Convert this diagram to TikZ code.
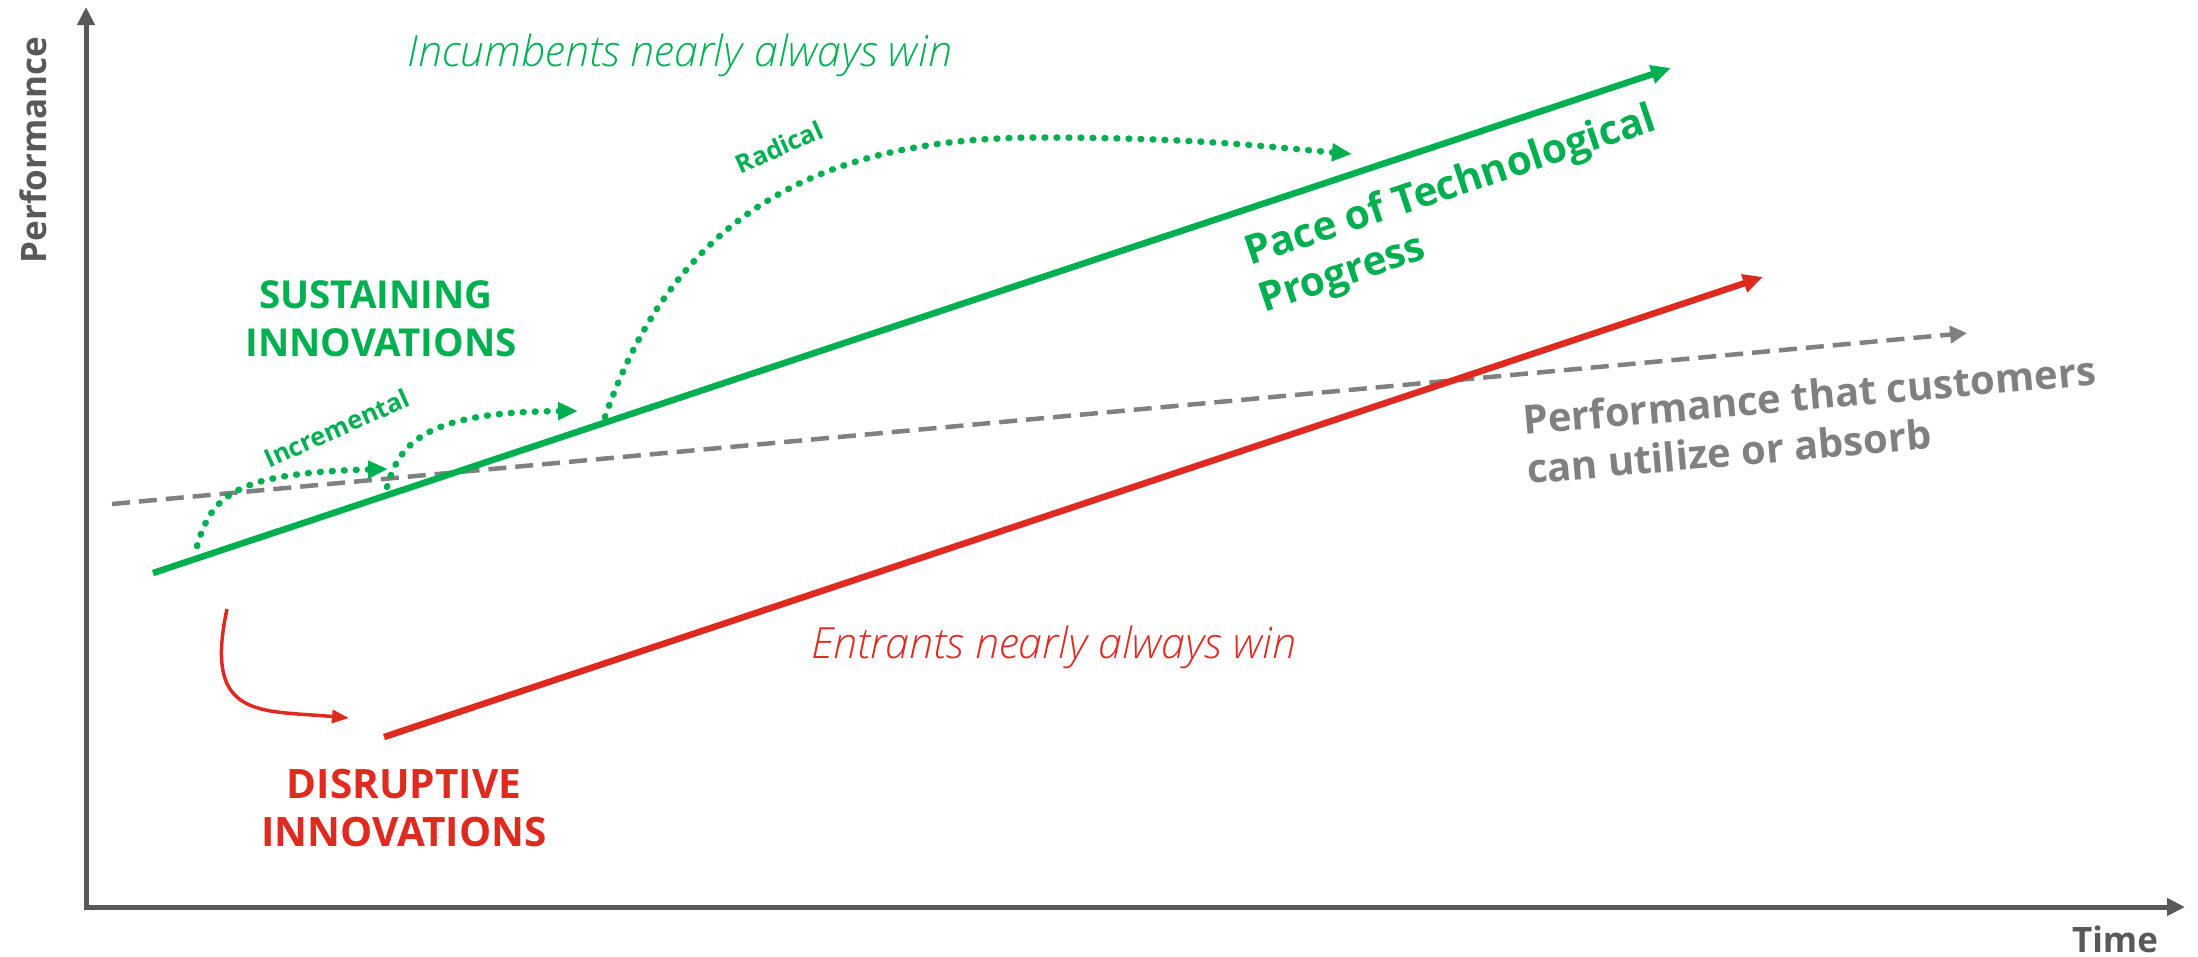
\documentclass[tikz,border=0pt]{standalone}
\usepackage{fontspec}
\setmainfont{Open Sans}
\IfFontExistsTF{Open Sans Light Italic}
  {\newfontfamily\winfont{Open Sans Light Italic}}
  {\newcommand\winfont{\itshape}}
\usetikzlibrary{arrows.meta}
\definecolor{sgreen}{HTML}{00B050}
\definecolor{dred}{HTML}{DF2A20}
\definecolor{cgray}{HTML}{808080}
\definecolor{axgray}{HTML}{595959}
\begin{document}
\begin{tikzpicture}[x=1pt,y=-1pt,
  axisline/.style={draw=axgray, line width=5pt, -{Triangle[length=18pt,width=17pt]}},
  greenline/.style={draw=sgreen, line width=6.5pt, -{Triangle[length=20pt,width=18pt]}},
  redline/.style={draw=dred, line width=6.5pt, -{Triangle[length=20pt,width=18pt]}},
  customerline/.style={draw=cgray, line width=4.5pt, dash pattern=on 18pt off 9pt, -{Triangle[length=17pt,width=17pt]}},
  dotarrow/.style={draw=sgreen, line width=6.5pt, line cap=round, dash pattern=on 0.8pt off 11.2pt, -{Triangle[length=20pt,width=17pt]}},
  redcurve/.style={draw=dred, line width=3.5pt, -{Triangle[length=17pt,width=13pt]}},
  axislabel/.style={text=axgray, font=\fontsize{35}{42}\selectfont\bfseries, inner sep=0pt},
  biglabel/.style={font=\fontsize{38.5}{47}\selectfont\bfseries, inner sep=0pt, anchor=base},
  disruptlabel/.style={font=\fontsize{40.5}{48}\selectfont\bfseries, inner sep=0pt, anchor=base},
  smalllabel/.style={text=sgreen, font=\fontsize{25.5}{30}\selectfont\bfseries, inner sep=0pt, rotate=24},
  winlabel/.style={font=\fontsize{43}{50}\selectfont\winfont, inner sep=0pt, anchor=base},
  pacelabel/.style={text=sgreen, font=\fontsize{40.5}{48}\selectfont\bfseries, inner sep=0pt, anchor=base west, rotate=18.5},
  custlabel/.style={text=cgray, font=\fontsize{40}{48}\selectfont\bfseries, inner sep=0pt, anchor=base west, rotate=5}
]
\useasboundingbox (0,0) rectangle (2198,956);

% axes
\coordinate (O) at (86,907);
\coordinate (ytip) at (86,7);
\coordinate (xtip) at (2185,907);
\coordinate (ybase) at (86,909.5);
\coordinate (xbase) at (83.5,907);
\draw[axisline] (ybase) -- (ytip);
\draw[axisline] (xbase) -- (xtip);
\node[axislabel, rotate=90] (perf) at (33,150) {Performance};
\node[axislabel, anchor=base] (time) at (2115,952) {Time};

% customer need (dashed)
\coordinate (c0) at (112,504);
\coordinate (c1) at (1967,333);
\draw[customerline] (c0) -- (c1);

% pace of technological progress
\coordinate (g0) at (153,573);
\coordinate (g1) at (1671,68);
\draw[greenline] (g0) -- (g1);

% disruptive
\coordinate (r0) at (384,737);
\coordinate (r1) at (1763,277);
\draw[redline] (r0) -- (r1);

% incremental dotted arrows
\coordinate (i1s) at (197,546);
\coordinate (i1e) at (388,469);
\draw[dotarrow] (i1s) .. controls (212,495) and (235,473) .. (i1e);
\coordinate (i2s) at (387,487);
\coordinate (i2e) at (578,411);
\draw[dotarrow] (i2s) .. controls (400,440) and (430,412) .. (i2e);

% radical dotted arrow
\coordinate (ras) at (605,417);
\coordinate (rap) at (1040,137.5);
\coordinate (rae) at (1352,154);
\draw[dotarrow] (ras) .. controls (675,215) and (820,137.5) .. (rap)
  .. controls (1200,137.5) and (1280,148) .. (rae);

% red curved arrow
\coordinate (rc0) at (227,609);
\coordinate (rc1) at (349,718);
\draw[redcurve] (rc0) .. controls (203,720) and (260,710) .. (rc1);

% labels
\node[winlabel, text=sgreen] (inc) at (680,66) {Incumbents nearly always win};
\node[winlabel, text=dred] (ent) at (1054,658) {Entrants nearly always win};

\node[biglabel, text=sgreen] (sus1) at (376,308) {SUSTAINING};
\node[biglabel, text=sgreen] (sus2) at (381,356.5) {INNOVATIONS};
\node[disruptlabel, text=dred] (dis1) at (404,798) {DISRUPTIVE};
\node[disruptlabel, text=dred] (dis2) at (404,846) {INNOVATIONS};

\node[smalllabel] (incr) at (337,428) {Incremental};
\node[smalllabel] (rad) at (779,147) {Radical};

\node[pacelabel] (pace1) at (1250,266) {Pace of Technological};
\node[pacelabel] (pace2) at (1264,313) {Progress};

\node[custlabel] (cust1) at (1524,435) {Performance that customers};
\node[custlabel] (cust2) at (1528,484) {can utilize or absorb};
\end{tikzpicture}
\end{document}
